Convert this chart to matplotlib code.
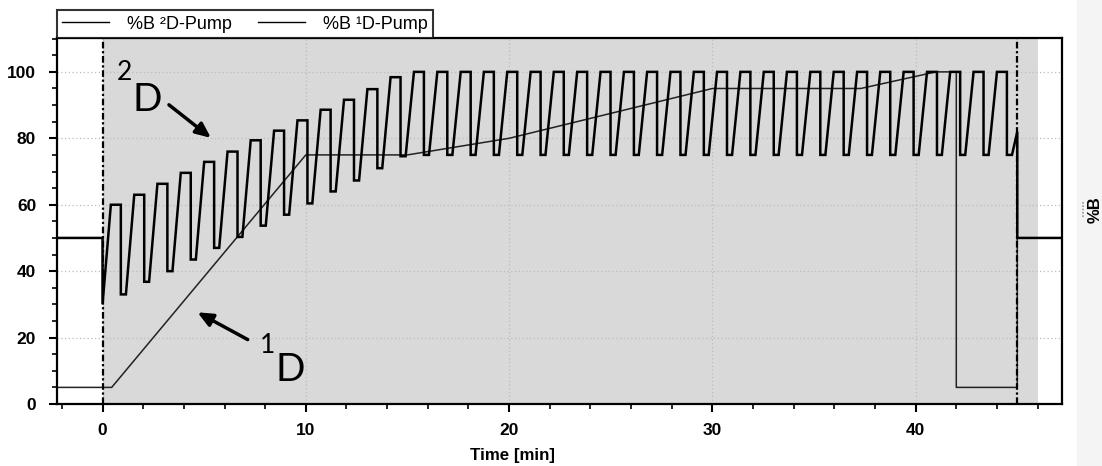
import matplotlib
matplotlib.use("Agg")
import matplotlib.pyplot as plt
from matplotlib.ticker import MultipleLocator
from matplotlib.patches import Rectangle
from matplotlib.lines import Line2D

# --- data ---
# 1D pump gradient (time in min, %B)
t_1d = [-2.3, 0.45, 10.0, 15.0, 20.0, 30.0, 37.3, 41.0, 42.0, 42.0, 45.0, 45.0, 47.3]
b_1d = [5, 5, 75, 75, 80, 95, 95, 100, 100, 5, 5, 50, 50]

# 2D pump: shifted gradient, one modulation per cycle
mod_start = [0.00, 1.15, 2.29, 3.44, 4.59, 5.74, 6.88, 8.03, 9.18, 10.32,
             11.47, 12.62, 13.76, 14.91, 16.06, 17.21, 18.35, 19.50, 20.65, 21.79,
             22.94, 24.09, 25.24, 26.38, 27.53, 28.68, 29.82, 30.97, 32.12, 33.26,
             34.41, 35.56, 36.71, 37.85, 39.00, 40.15, 41.29, 42.44, 43.59]
mod_low = [30, 33, 36.8, 40, 43.5, 47, 50.3, 53.7, 57, 60.4, 64, 67.3, 71, 74.6] + [75] * 25
mod_high = [60, 63, 66.3, 69.6, 72.9, 76, 79.4, 82.3, 85.4, 88.6, 91.6, 94.8, 98.4] + [100] * 26
rise_time = 0.41
hold_time = 0.49
t_2d_head = [-2.3, 0.0]
b_2d_head = [50, 50]
t_2d_tail = [44.74, 45.0, 45.0, 47.3]
b_2d_tail = [75, 82, 50, 50]

# build the 2D path from the cycle values
t_2d = list(t_2d_head)
b_2d = list(b_2d_head)
for i, s in enumerate(mod_start):
    nxt = mod_low[i + 1] if i + 1 < len(mod_low) else b_2d_tail[0]
    t_2d += [s, s + rise_time, s + rise_time + hold_time, s + rise_time + hold_time]
    b_2d += [mod_low[i], mod_high[i], mod_high[i], nxt]
t_2d += t_2d_tail
b_2d += b_2d_tail

fig = plt.figure(figsize=(11.02, 4.66), dpi=100)
fig.add_artist(Rectangle((1077 / 1102, 0), 25 / 1102, 1, transform=fig.transFigure,
                         color="#f4f4f4", zorder=0))
ax = fig.add_axes([57 / 1102, 1 - 404 / 466, 1005 / 1102, 366 / 466])

ax.axvspan(0, 46, color="#d9d9d9", zorder=0.2, lw=0)
ax.set_axisbelow(True)
ax.grid(True, which="major", linestyle=(0, (1, 2)), color="#bcbcbc", lw=0.9)

ax.plot(t_2d, b_2d, color="black", lw=1.8, solid_joinstyle="miter", label="%B ²D-Pump", zorder=3)
ax.plot(t_1d, b_1d, color="#222222", lw=1.1, label="%B ¹D-Pump", zorder=2.5)

for xv in [0, 45]:
    ax.axvline(xv, color="black", lw=1.6, linestyle=(0, (3, 1.2, 1, 1.2)), zorder=4)

ax.set_xlim(-2.24, 47.2)
ax.set_ylim(0, 110.2)
ax.xaxis.set_major_locator(MultipleLocator(10))
ax.xaxis.set_minor_locator(MultipleLocator(2))
ax.yaxis.set_major_locator(MultipleLocator(20))
ax.yaxis.set_minor_locator(MultipleLocator(5))
ax.tick_params(which="major", length=6, width=1.5, direction="out", labelsize=12.5)
ax.tick_params(which="minor", length=3.5, width=1.2, direction="out")
ax.tick_params(axis="x", which="major", pad=8)
ax.tick_params(axis="y", which="major", pad=9)
for lab in ax.get_xticklabels() + ax.get_yticklabels():
    lab.set_fontweight("bold")
    lab.set_family("Liberation Sans")
for sp in ax.spines.values():
    sp.set_linewidth(1.6)

ax.set_xlabel("Time [min]", fontsize=12.2, fontweight="bold", family="Liberation Sans")
ax.xaxis.set_label_coords(0.453, -0.12)

leg = ax.legend(loc="lower left", bbox_to_anchor=(0, 1), ncol=2, frameon=True,
                fancybox=False, borderaxespad=0, handlelength=2.6, handletextpad=1.0,
                columnspacing=1.4, borderpad=0.3,
                prop={"family": "Liberation Sans", "size": 13})
leg.get_frame().set_edgecolor("black")
leg.get_frame().set_linewidth(1.5)
for h in leg.legend_handles:
    h.set_color("black")
    h.set_linewidth(1.0)

# annotations
ann_font = "Lato"
ax.text(1.06, 99.7, "2", fontsize=19, family=ann_font, ha="center", va="center")
ax.text(2.2, 91.4, "D", fontsize=28, family=ann_font, ha="center", va="center")
ax.annotate("", xy=(5.44, 79.6), xytext=(3.16, 90.6),
            arrowprops=dict(arrowstyle="-|>,head_length=0.9,head_width=0.4", lw=2.5, color="black"))
ax.text(8.1, 17.7, "1", fontsize=19, family=ann_font, ha="center", va="center")
ax.text(9.25, 10.1, "D", fontsize=28, family=ann_font, ha="center", va="center")
ax.annotate("", xy=(4.55, 28.0), xytext=(7.26, 19.0),
            arrowprops=dict(arrowstyle="-|>,head_length=0.9,head_width=0.4", lw=2.5, color="black"))

fig.text(1095 / 1102, 1 - 210 / 466, "%B", rotation=90, fontsize=12, fontweight="bold",
         family="Liberation Sans", ha="center", va="center")
fig.add_artist(Line2D([1083 / 1102, 1083 / 1102], [1 - 202 / 466, 1 - 218 / 466],
                      transform=fig.transFigure, color="#999999", lw=1.2, linestyle=(0, (1, 1))))

fig.savefig("out.png", dpi=100)
